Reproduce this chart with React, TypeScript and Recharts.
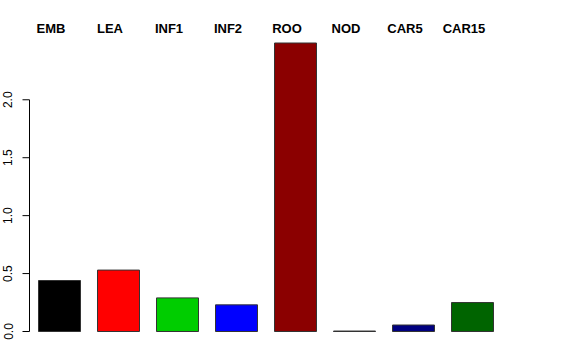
import { BarChart, Bar, XAxis, YAxis, Cell, ReferenceLine } from "recharts";

const tissues = ["EMB", "LEA", "INF1", "INF2", "ROO", "NOD", "CAR5", "CAR15"];
const values = [0.44, 0.53, 0.29, 0.23, 2.49, 0.004, 0.056, 0.25];
const colors = ["#000000", "#FF0000", "#00CD00", "#0000FF", "#8B0000", "#551A8B", "#000080", "#006400"];
const yTicks = [0, 0.5, 1, 1.5, 2];

const data = tissues.map((t, i) => ({ tissue: t, value: values[i], pos: i }));

const font = "'Liberation Sans', Arial, Helvetica, sans-serif";

// labels across the top, bold, a little left of each bar's centre
const TopLabel = (props: any) => {
  const { x, y, payload } = props;
  return (
    <text x={x - 8} y={y} dy={-2} textAnchor="middle" fontFamily={font} fontWeight="bold" fontSize={13} fill="#000">
      {payload.value}
    </text>
  );
};

// rotated y tick labels, as in base R
const YLabel = (props: any) => {
  const { x, y, payload } = props;
  return (
    <text
      x={x}
      y={y}
      transform={`rotate(-90, ${x}, ${y})`}
      textAnchor="middle"
      fontFamily={font}
      fontSize={12}
      fill="#000"
    >
      {payload.value.toFixed(1)}
    </text>
  );
};

export default function App() {
  return (
    <div style={{ position: "absolute", left: 0, top: 0, background: "#fff" }}>
      <BarChart width={576} height={360} data={data} margin={{ top: 0, right: 74.5, bottom: 28.5, left: 0 }}>
        <XAxis
          dataKey="tissue"
          orientation="top"
          height={43}
          axisLine={false}
          tickLine={false}
          tick={<TopLabel />}
          interval={0}
        />
        <XAxis xAxisId="n" type="number" dataKey="pos" domain={[0, 8]} hide />
        <YAxis
          width={29.5}
          domain={[0, "dataMax"]}
          ticks={yTicks}
          axisLine={false}
          tickLine={{ stroke: "#000" }}
          tickSize={7}
          tickMargin={10}
          tick={<YLabel />}
          interval={0}
        />
        <ReferenceLine
          xAxisId="n"
          segment={[
            { x: 0, y: 0 },
            { x: 0, y: 2 },
          ]}
          stroke="#000"
          strokeWidth={1}
        />
        <Bar dataKey="value" barSize={42} stroke="#333" strokeWidth={1} isAnimationActive={false}>
          {data.map((d, i) => (
            <Cell key={d.tissue} fill={colors[i]} />
          ))}
        </Bar>
      </BarChart>
    </div>
  );
}
